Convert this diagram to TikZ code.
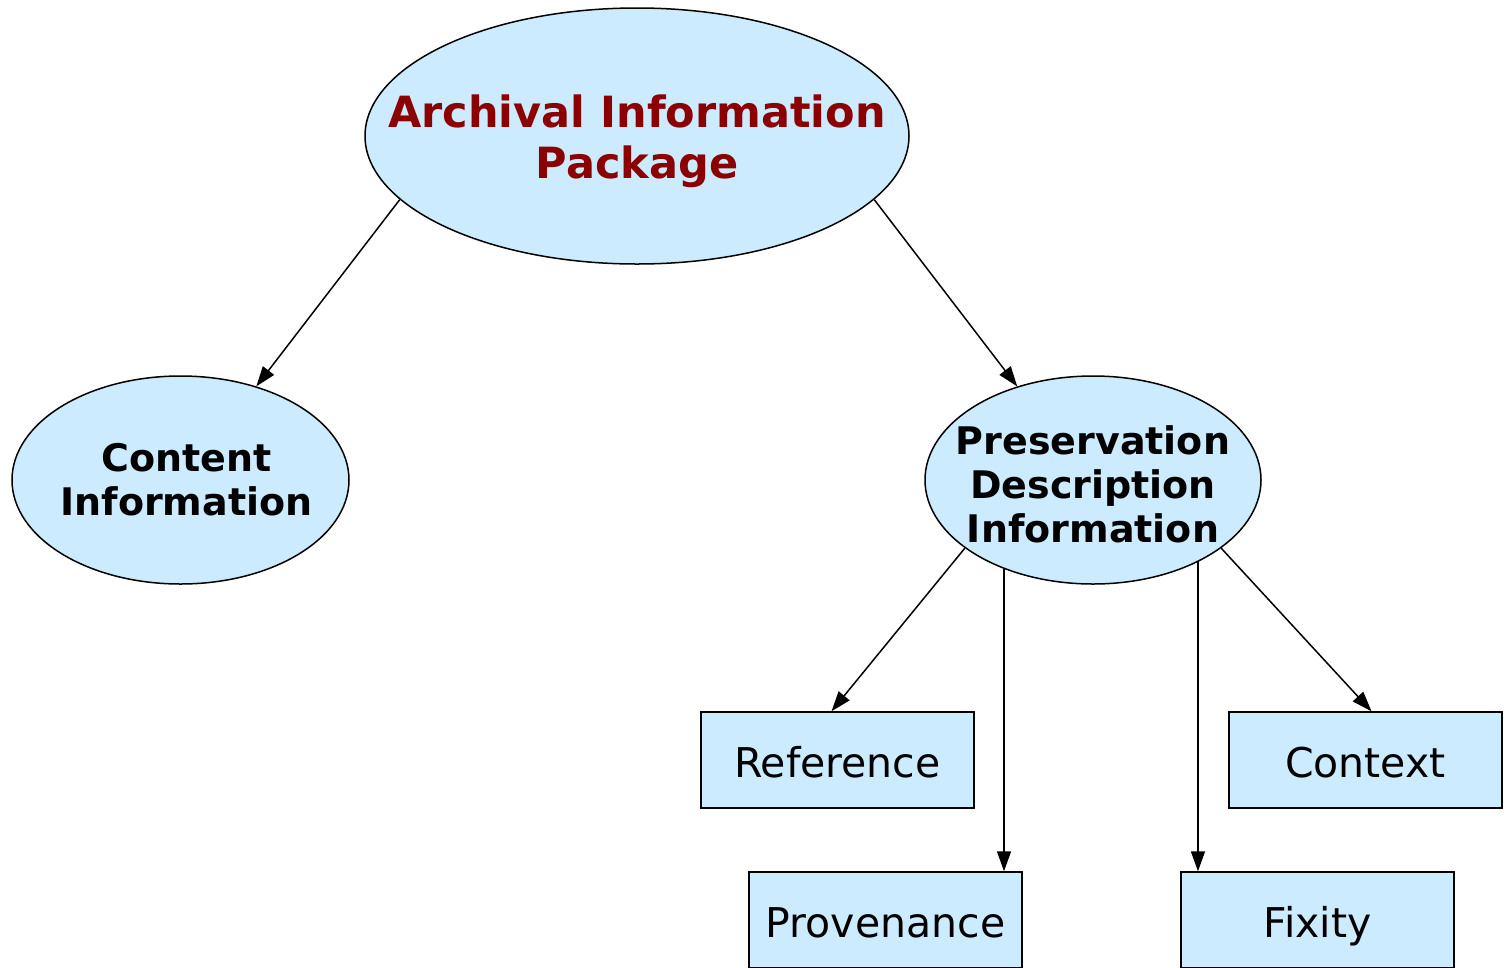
\documentclass[tikz,border=0pt]{standalone}
\usepackage{fontspec}
\setmainfont{DejaVu Sans}
\usetikzlibrary{shapes.geometric,arrows.meta}
\definecolor{paleblue}{HTML}{CCEBFF}
\definecolor{aipred}{HTML}{8B0000}
\tikzset{
    oval/.style={ellipse,draw,fill=paleblue,line width=1.5pt,inner sep=0pt},
    ovaltext/.style={align=center,font=\fontsize{38}{44}\selectfont\bfseries},
    infobox/.style={rectangle,draw,fill=paleblue,line width=1.5pt,inner sep=0pt,
        minimum width=273pt,minimum height=96pt,text height=43pt,text depth=9pt,
        font=\fontsize{41}{49}\selectfont},
    link/.style={-{Triangle[length=20pt,width=14pt]},line width=1.5pt}
}
\begin{document}
\begin{tikzpicture}[x=1pt,y=-1pt]
        \useasboundingbox (0,0) rectangle (1507,967);
        % ovals
        \node[oval,minimum width=544pt,minimum height=256pt,
            label={[align=center,text=aipred,yshift=-5pt,font=\fontsize{43}{51}\selectfont\bfseries]center:Archival Information\\Package}] (aip) at (637,136) {};
        \node[oval,minimum width=337pt,minimum height=208pt,
            label={[ovaltext,xshift=6pt]center:Content\\Information}] (ci) at (180.5,480) {};
        \node[oval,minimum width=336pt,minimum height=208pt,
            label={[ovaltext,yshift=-4pt]center:Preservation\\Description\\Information}] (pdi) at (1093,480) {};
        % boxes
        \node[infobox] (ref) at (837.5,760) {Reference};
        \node[infobox] (ctx) at (1365.5,760) {Context};
        \node[infobox] (prov) at (885.5,920) {Provenance};
        \node[infobox] (fix) at (1317.5,920) {Fixity};
        % arrows
        \draw[link] (aip.195) -- (ci.51);
        \draw[link] (aip.345) -- (pdi.129);
        \draw[link] (pdi.208) -- ([xshift=-6pt]ref.north);
        \draw[link] (pdi.225) -- (pdi.225 |- prov.north);
        \draw[link] (pdi.322) -- (pdi.322 |- fix.north);
        \draw[link] (pdi.332) -- ([xshift=6pt]ctx.north);
\end{tikzpicture}
\end{document}
